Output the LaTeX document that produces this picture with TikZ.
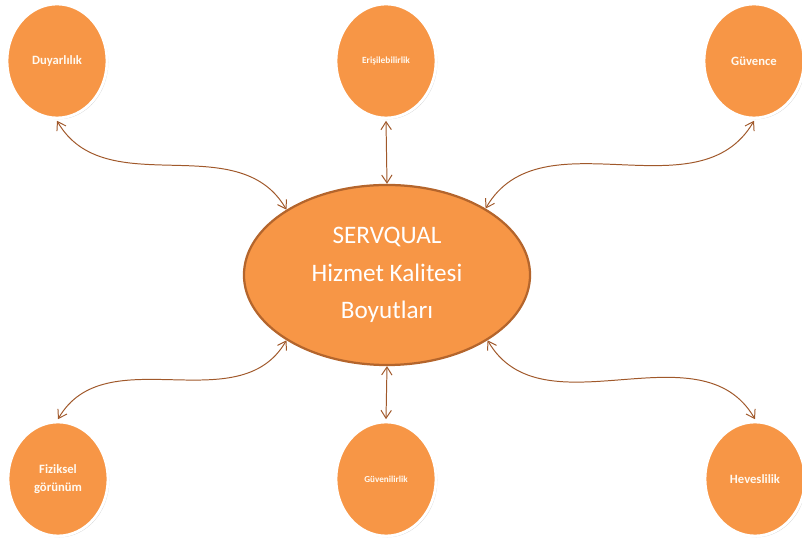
\documentclass[tikz,border=0pt]{standalone}
\usepackage{fontspec}
\setmainfont{Carlito}
\usetikzlibrary{arrows.meta,shapes.geometric,shadows}
\definecolor{servorange}{HTML}{F79646}
\definecolor{servedge}{HTML}{B4652C}
\definecolor{servarrow}{HTML}{A0582A}
\definecolor{servtext}{HTML}{FFF9F0}
\tikzset{
  dim/.style={ellipse,fill=servorange,draw=white,line width=2pt,minimum width=2.5cm,minimum height=2.85cm,
    text=servtext,font=\bfseries\fontsize{9}{13}\selectfont,align=center,outer sep=2pt,
    drop shadow={opacity=0.35,shadow xshift=0.9pt,shadow yshift=-0.9pt}},
  link/.style={<->,draw=servarrow,line width=0.7pt}
}

\begin{document}
\begin{tikzpicture}[x=0.025cm,y=0.025cm,>={Straight Barb[length=2mm,width=2.6mm]}]
\useasboundingbox (0,0) rectangle (802,543);
\node[ellipse,fill=servorange,draw=servedge,line width=1.6pt,minimum width=7.15cm,minimum height=4.5cm,
  text=white,font=\fontsize{17.9}{26.5}\selectfont,align=center] (core) at (387,268) {SERVQUAL\\Hizmet Kalitesi\\Boyutları};
% top row
\node[dim] (duy) at (57,482) {Duyarlılık};
\node[dim,font=\bfseries\fontsize{6.7}{8}\selectfont] (eris) at (386,482) {Erişilebilirlik};
\node[dim] (guv) at (754,482) {Güvence};
% bottom row
\node[dim] (fiz) at (58,64) {Fiziksel\\görünüm};
\node[dim,font=\bfseries\fontsize{6.5}{8}\selectfont] (guvr) at (386,64) {Güvenilirlik};
\node[dim] (hev) at (755,64) {Heveslilik};
\draw[link] (duy.south) to[out=-60,in=120] (core.147);
\draw[link] (eris.south) -- (core.north);
\draw[link] (guv.south) to[out=240,in=60] (core.34);
\draw[link] (fiz.north) to[out=60,in=240] (core.213);
\draw[link] (core.south) -- (guvr.north);
\draw[link] (hev.north) to[out=120,in=-60] (core.-33);
\end{tikzpicture}
\end{document}
